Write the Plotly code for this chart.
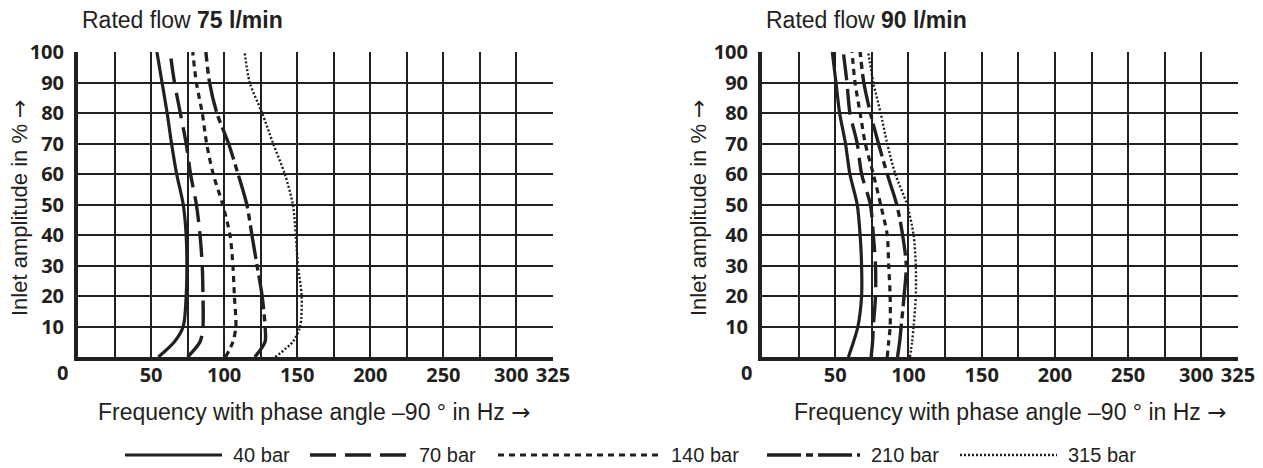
import plotly.graph_objects as go

# ---------------- data ----------------
amplitude = [0, 5, 10, 20, 30, 40, 50, 60, 70, 80, 90, 100]
series_names = ["40 bar", "70 bar", "140 bar", "210 bar", "315 bar"]

# Rated flow 75 l/min : frequency (Hz) at each amplitude level
f75_40 = [55, 66, 72, 74, 74.5, 74, 72, 67.5, 64, 61, 57.5, 54]
f75_70 = [75, 83.5, 85.5, 85.5, 85, 83.5, 81, 77, 74, 70, 66, 63]
f75_140 = [101, 106, 108, 107, 106, 104, 99, 92.5, 88, 85, 81, 78.5]
f75_210 = [121, 128, 128, 126, 122.5, 119, 115.5, 109.5, 103, 95, 90, 87.5]
f75_315 = [135, 147, 152, 153, 150.5, 149, 147, 141.5, 133.5, 126, 117.5, 114]

# Rated flow 90 l/min
f90_40 = [59, 62.5, 65.5, 68, 68, 67, 65, 60, 57, 53, 50.5, 48]
f90_70 = [74.5, 75.5, 76, 77.5, 77.5, 76, 74, 68, 65, 60, 58, 55.5]
f90_140 = [85.5, 86.5, 87.5, 87.5, 86.5, 85.5, 81, 76, 70.5, 67, 63.5, 61.5]
f90_210 = [92.5, 94, 95, 97, 98.5, 96, 92, 85.5, 79.5, 74, 69.5, 67]
f90_315 = [101, 102.5, 103.5, 105, 105, 103.5, 99, 91, 85.5, 81, 76, 72.5]

x_tickvals = [50, 100, 150, 200, 250, 300, 325]
x_ticktext = ["50", "100", "150", "200", "250", "300\u00a0\u00a0", "325"]
y_tickvals = [10, 20, 30, 40, 50, 60, 70, 80, 90, 100]

# ---------------- styles ----------------
INK = "#231f20"
styles = [
    dict(dash="solid", width=3.2),
    dict(dash="26px,9px", width=3.4),
    dict(dash="6px,5px", width=3.2),
    dict(dash="34px,5px,7px,5px", width=3.4),
    dict(dash="2px,2px", width=2.4),
]

W, H = 1263, 468
fig = go.Figure()

charts = [
    (("x", "y"), [f75_40, f75_70, f75_140, f75_210, f75_315]),
    (("x2", "y2"), [f90_40, f90_70, f90_140, f90_210, f90_315]),
]
for (xa, ya), data in charts:
    for name, xs, st in zip(series_names, data, styles):
        fig.add_trace(go.Scatter(
            x=xs, y=amplitude, mode="lines", name=name, xaxis=xa, yaxis=ya,
            line=dict(color=INK, width=st["width"], dash=st["dash"], shape="spline", smoothing=0.8),
            showlegend=False, hoverinfo="skip"))

def px_x(p):
    return p / W

def px_y(p):
    return 1 - p / H

tickfont = dict(family="Open Sans", size=20, color=INK, weight="bold")
grid = dict(showgrid=True, gridcolor=INK, gridwidth=1.6)

def xaxis(domain, anchor):
    return dict(domain=domain, anchor=anchor, range=[0, 325], tickmode="array",
                tickvals=x_tickvals, ticktext=x_ticktext, tickangle=0,
                tickfont=tickfont, ticks="", showline=True, linecolor=INK, linewidth=4,
                zeroline=False, automargin=False,
                minor=dict(dtick=25, tick0=0, showgrid=True, gridcolor=INK, gridwidth=1.6),
                ticklabelstandoff=-3, fixedrange=True, **grid)

def yaxis(domain, anchor):
    return dict(domain=domain, anchor=anchor, range=[0, 100], tickmode="array",
                tickvals=y_tickvals, ticktext=[str(v) for v in y_tickvals],
                tickfont=tickfont, ticks="", showline=True, linecolor=INK, linewidth=4,
                zeroline=False, automargin=False, ticklabelstandoff=6, fixedrange=True, **grid)

ydom = [px_y(357), px_y(52)]
fig.update_layout(
    width=W, height=H,
    margin=dict(l=0, r=0, t=0, b=0, autoexpand=False),
    paper_bgcolor="white", plot_bgcolor="white",
    xaxis=xaxis([px_x(78), px_x(553)], "y"),
    yaxis=yaxis(ydom, "x"),
    xaxis2=xaxis([px_x(762), px_x(1238)], "y2"),
    yaxis2=yaxis(ydom, "x2"),
    showlegend=False,
)

FAM = "Liberation Sans, Arial, sans-serif"
ARROW = "<span style='font-family:DejaVu Sans'>→</span>"
ann = []
# titles
title_font = dict(family=FAM, size=23, color=INK)
ann.append(dict(text="Rated flow <b>75 l/min</b>", x=px_x(80), y=px_y(20), xref="paper", yref="paper",
                xanchor="left", yanchor="middle", showarrow=False, font=title_font))
ann.append(dict(text="Rated flow <b>90 l/min</b>", x=px_x(764), y=px_y(20), xref="paper", yref="paper",
                xanchor="left", yanchor="middle", showarrow=False, font=title_font))
# y axis titles
for xc in (19, 698):
    ann.append(dict(text="Inlet amplitude in % " + ARROW, x=px_x(xc), y=px_y(208), xref="paper",
                    yref="paper", xanchor="center", yanchor="middle", textangle=-90, showarrow=False,
                    font=dict(family=FAM, size=22, color=INK)))
# x axis titles
for xc in (314, 1010):
    ann.append(dict(text="Frequency with phase angle –90 ° in Hz " + ARROW, x=px_x(xc), y=px_y(412),
                    xref="paper", yref="paper", xanchor="center", yanchor="middle", showarrow=False,
                    font=dict(family=FAM, size=23, color=INK)))
# "0" origin labels
for xa, ya in (("x", "y"), ("x2", "y2")):
    ann.append(dict(text="0", x=0, y=0, xref=xa, yref=ya, xshift=-16, yshift=-15, showarrow=False,
                    font=tickfont, xanchor="center", yanchor="middle"))

# legend (drawn manually for long line samples)
shapes = []
legend_pos = [(125, 222), (310, 408), (498, 660), (767, 860), (960, 1057)]
for (x0, x1), name, st in zip(legend_pos, series_names, styles):
    shapes.append(dict(type="line", xref="paper", yref="paper", x0=px_x(x0), x1=px_x(x1),
                       y0=px_y(455), y1=px_y(455), line=dict(color=INK, width=st["width"], dash=st["dash"])))
    ann.append(dict(text=name, x=px_x(x1 + 9), y=px_y(455), xref="paper", yref="paper", xanchor="left",
                    yanchor="middle", showarrow=False, font=dict(family=FAM, size=20, color=INK)))

fig.update_layout(annotations=ann, shapes=shapes)
fig.write_html("out.html", config={"displayModeBar": False},
               post_script="document.body.style.margin='0px';")
